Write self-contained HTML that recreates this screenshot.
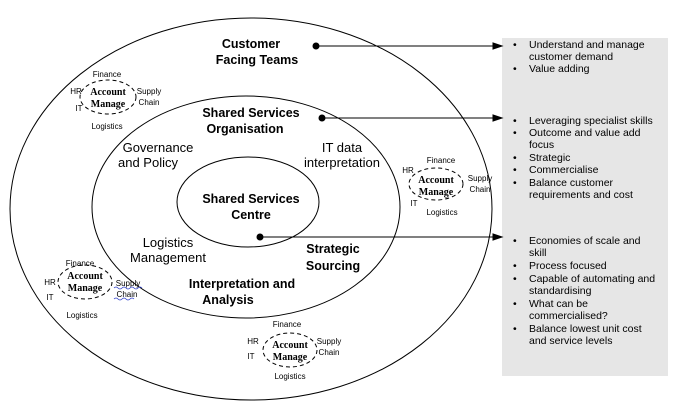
<!DOCTYPE html>
<html><head><meta charset="utf-8"><style>
html,body{margin:0;padding:0;background:#fff;}
svg{display:block;font-family:"Liberation Sans",Arial,sans-serif;}
.s{font-size:8px;fill:#000;}
.am{font-family:"Liberation Serif",serif;font-size:10px;font-weight:bold;}
.b{font-size:12.5px;font-weight:bold;}
.n{font-size:13px;}
.l{font-size:10.5px;}
</style></head><body>
<svg width="686" height="415" viewBox="0 0 686 415">
<rect x="502" y="38" width="166" height="338" fill="#e6e6e6"/>
<ellipse cx="251" cy="209" rx="241" ry="191" fill="none" stroke="#000" stroke-width="1"/>
<ellipse cx="246" cy="207" rx="154" ry="111" fill="none" stroke="#000" stroke-width="1"/>
<ellipse cx="248" cy="202" rx="71" ry="45" fill="none" stroke="#000" stroke-width="1"/>

<text class="b" x="251" y="48" text-anchor="middle">Customer</text>
<text class="b" x="257" y="64" text-anchor="middle">Facing Teams</text>
<text class="b" x="251" y="117" text-anchor="middle">Shared Services</text>
<text class="b" x="245" y="133" text-anchor="middle">Organisation</text>
<text class="b" x="251" y="203" text-anchor="middle">Shared Services</text>
<text class="b" x="251" y="219" text-anchor="middle">Centre</text>
<text class="b" x="333" y="253" text-anchor="middle">Strategic</text>
<text class="b" x="333" y="270" text-anchor="middle">Sourcing</text>
<text class="b" x="242" y="288" text-anchor="middle">Interpretation and</text>
<text class="b" x="228" y="304" text-anchor="middle">Analysis</text>
<text class="n" x="158" y="152" text-anchor="middle">Governance</text>
<text class="n" x="148" y="167" text-anchor="middle">and Policy</text>
<text class="n" x="342" y="152" text-anchor="middle">IT data</text>
<text class="n" x="342" y="167" text-anchor="middle">interpretation</text>
<text class="n" x="168" y="247" text-anchor="middle">Logistics</text>
<text class="n" x="168" y="262" text-anchor="middle">Management</text>

<g fill="#000" stroke="#000">
<circle cx="316" cy="46" r="3"/><line x1="316" y1="46" x2="494" y2="46"/><path d="M502 46 L493 43 L493 49Z"/>
<circle cx="322" cy="118" r="3"/><line x1="322" y1="118" x2="494" y2="118"/><path d="M502 118 L493 115 L493 121Z"/>
<circle cx="260" cy="237" r="3"/><line x1="260" y1="237" x2="494" y2="237"/><path d="M502 237 L493 234 L493 240Z"/>
</g>

<!-- cluster 1 -->
<ellipse cx="108" cy="97" rx="28" ry="17" fill="none" stroke="#000" stroke-dasharray="4,3"/>
<text class="am" x="108" y="95" text-anchor="middle">Account</text>
<text class="am" x="108" y="107" text-anchor="middle">Manage</text>
<text class="s" x="107" y="77" text-anchor="middle">Finance</text>
<text class="s" x="76" y="94" text-anchor="middle">HR</text>
<text class="s" x="79" y="111" text-anchor="middle">IT</text>
<text class="s" x="149" y="94" text-anchor="middle">Supply</text>
<text class="s" x="149" y="105" text-anchor="middle">Chain</text>
<text class="s" x="107" y="129" text-anchor="middle">Logistics</text>

<!-- cluster 2 -->
<ellipse cx="436" cy="184" rx="27" ry="16" fill="none" stroke="#000" stroke-dasharray="4,3"/>
<text class="am" x="436" y="183" text-anchor="middle">Account</text>
<text class="am" x="436" y="195" text-anchor="middle">Manage</text>
<text class="s" x="441" y="163" text-anchor="middle">Finance</text>
<text class="s" x="408" y="173" text-anchor="middle">HR</text>
<text class="s" x="414" y="206" text-anchor="middle">IT</text>
<text class="s" x="480" y="181" text-anchor="middle">Supply</text>
<text class="s" x="480" y="192" text-anchor="middle">Chain</text>
<text class="s" x="442" y="215" text-anchor="middle">Logistics</text>

<!-- cluster 3 -->
<ellipse cx="85" cy="282" rx="27" ry="17" fill="none" stroke="#000" stroke-dasharray="4,3"/>
<text class="am" x="85" y="279" text-anchor="middle">Account</text>
<text class="am" x="85" y="291" text-anchor="middle">Manage</text>
<text class="s" x="80" y="266" text-anchor="middle">Finance</text>
<text class="s" x="50" y="285" text-anchor="middle">HR</text>
<text class="s" x="50" y="300" text-anchor="middle">IT</text>
<text class="s" x="128" y="286" text-anchor="middle">Supply</text>
<text class="s" x="127" y="297" text-anchor="middle">Chain</text>
<path d="M114 288 q2 -2 4 0 t4 0 t4 0 t4 0 t4 0 t4 0 t4 0 M114 299 q2 -2 4 0 t4 0 t4 0 t4 0 t4 0" fill="none" stroke="#3344cc" stroke-width="0.8"/>
<text class="s" x="82" y="318" text-anchor="middle">Logistics</text>

<!-- cluster 4 -->
<ellipse cx="290" cy="350" rx="27" ry="17" fill="none" stroke="#000" stroke-dasharray="4,3"/>
<text class="am" x="290" y="348" text-anchor="middle">Account</text>
<text class="am" x="290" y="360" text-anchor="middle">Manage</text>
<text class="s" x="287" y="327" text-anchor="middle">Finance</text>
<text class="s" x="253" y="344" text-anchor="middle">HR</text>
<text class="s" x="251" y="359" text-anchor="middle">IT</text>
<text class="s" x="329" y="344" text-anchor="middle">Supply</text>
<text class="s" x="329" y="355" text-anchor="middle">Chain</text>
<text class="s" x="290" y="379" text-anchor="middle">Logistics</text>

<!-- bullets -->
<g class="l">
<text x="513" y="48">•</text><text x="529" y="48">Understand and manage</text>
<text x="529" y="60">customer demand</text>
<text x="513" y="72">•</text><text x="529" y="72">Value adding</text>

<text x="513" y="124">•</text><text x="529" y="124">Leveraging specialist skills</text>
<text x="513" y="136">•</text><text x="529" y="136">Outcome and value add</text>
<text x="529" y="148">focus</text>
<text x="513" y="161">•</text><text x="529" y="161">Strategic</text>
<text x="513" y="173">•</text><text x="529" y="173">Commercialise</text>
<text x="513" y="186">•</text><text x="529" y="186">Balance customer</text>
<text x="529" y="198">requirements and cost</text>

<text x="513" y="244">•</text><text x="529" y="244">Economies of scale and</text>
<text x="529" y="256">skill</text>
<text x="513" y="269">•</text><text x="529" y="269">Process focused</text>
<text x="513" y="282">•</text><text x="529" y="282">Capable of automating and</text>
<text x="529" y="294">standardising</text>
<text x="513" y="307">•</text><text x="529" y="307">What can be</text>
<text x="529" y="319">commercialised?</text>
<text x="513" y="332">•</text><text x="529" y="332">Balance lowest unit cost</text>
<text x="529" y="344">and service levels</text>
</g>
</svg>
</body></html>
